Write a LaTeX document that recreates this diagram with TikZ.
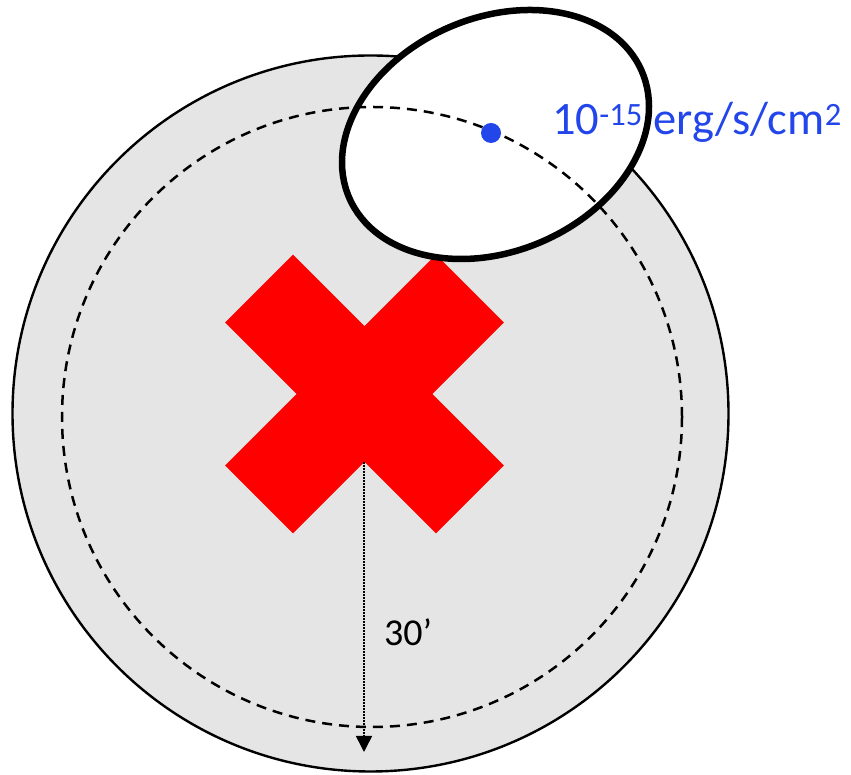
\documentclass[tikz,border=0pt]{standalone}
\usepackage{fontspec}
\setmainfont{Carlito}
\usetikzlibrary{arrows.meta}
\definecolor{fondo}{RGB}{229,229,229}
\definecolor{azulflujo}{RGB}{35,70,235}
\begin{document}
\begin{tikzpicture}[x=1pt,y=1pt]
    \useasboundingbox (0,0) rectangle (851,775);
    % Campo de vision
    \filldraw[fill=fondo, draw=black, line width=2.4pt] (370.5,361.5) circle (358);
    
    % Cruz roja
    \coordinate (centro) at (364.5,381);
    \fill[red, shift={(centro)}] (0,67.9) -- (71.5,139.3) -- (139.3,71.5) -- (67.9,0)
        -- (139.3,-71.5) -- (71.5,-139.3) -- (0,-67.9) -- (-71.5,-139.3)
        -- (-139.3,-71.5) -- (-67.9,0) -- (-139.3,71.5) -- (-71.5,139.3) -- cycle;
    
    % Elipse de error
    \filldraw[fill=white, draw=black, line width=6.5pt, rotate around={23.4:(495.5,640.5)}]
        (495.5,640.5) ellipse (159.4 and 116.8);
    
    % Circulo de radio 30'
    \draw[line width=2.5pt, dash pattern=on 10pt off 7pt] (372,358) circle (310);
    
    % Fuente y su flujo
    \fill[azulflujo] (491,642) circle (10);
    \node[azulflujo, anchor=base west, inner sep=0pt, font=\fontsize{46.5}{50}\selectfont]
        (flujo) at (552,640) {10\textsuperscript{-15} erg/s/cm\textsuperscript{2}};
    
    % Radio
    \coordinate (inicio) at (364,313);
    \coordinate (borde) at (364,23);
    \draw[line width=1.6pt, dash pattern=on 1.6pt off 1.4pt, -{Triangle[width=16pt,length=16pt]}] (inicio) -- (borde);
    \node[font=\fontsize{38}{42}\selectfont] (radio) at (408,143) {30’};
\end{tikzpicture}
\end{document}
